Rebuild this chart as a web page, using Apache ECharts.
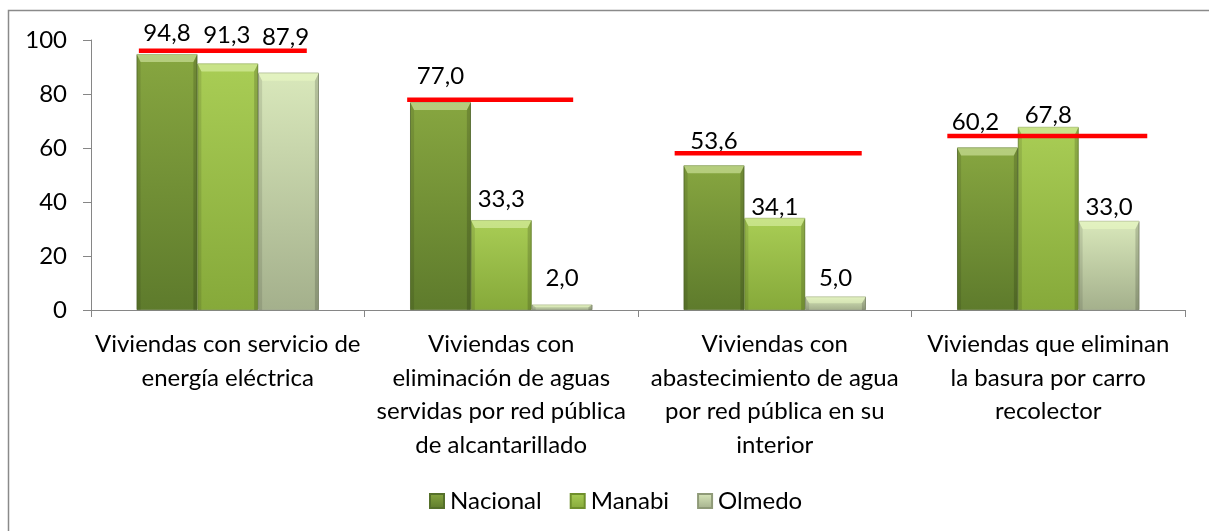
<!DOCTYPE html>
<html>
<head>
<meta charset="utf-8">
<script src="https://cdn.jsdelivr.net/npm/echarts@6/dist/echarts.min.js"></script>
<style>
  html, body { margin: 0; padding: 0; background: #ffffff; }
  #chart { width: 1209px; height: 531px; }
</style>
</head>
<body>
<div id="chart"></div>
<script>
// Categories of household services (wrapped as shown on the axis)
const categories = [
  'Viviendas con servicio de\nenergía eléctrica',
  'Viviendas con\neliminación de aguas\nservidas por red pública\nde alcantarillado',
  'Viviendas con\nabastecimiento de agua\npor red pública en su\ninterior',
  'Viviendas que eliminan\nla basura por carro\nrecolector'
];
const seriesNames = ['Nacional', 'Manabi', 'Olmedo'];
const nacional = [94.8, 77.0, 53.6, 60.2];
const manabi   = [91.3, 33.3, 34.1, 67.8];
const olmedo   = [87.9, 2.0, 5.0, 33.0];
// Reference level per category (red bars)
const referencia = [96.0, 77.9, 58.1, 64.4];
const yTicks = [0, 20, 40, 60, 80, 100];

// Layout: horizontal extent of each red bar, as a fraction of the category band
const refSpan = [[-0.325, 0.289], [-0.344, 0.263], [-0.366, 0.318], [-0.369, 0.362]];
// Layout: hand-placed label nudges [dx, dy] per series and category
const labelNudge = [
  [[0, -9], [0, -14], [0, -12], [-12, -13]],
  [[-1, -16], [0, -9], [0, 1], [0, 0]],
  [[-3, -23], [0, -14], [0, -6], [0, -2]]
];

const FONT = 'Lato, "Open Sans", sans-serif';
const FS = 24;
const palette = [
  { top: '#87a640', bottom: '#5e7b2c', edge: '#55702a' },
  { top: '#a9cd55', bottom: '#86a93a', edge: '#6f8f2c' },
  { top: '#d9e8bb', bottom: '#a4b08c', edge: '#8f9a78' }
];
const seriesData = [nacional, manabi, olmedo];
const GAP = 0.3334;

function fmt(v) { return v.toFixed(1).replace('.', ','); }

const chart = echarts.init(document.getElementById('chart'), null, { renderer: 'canvas' });

const barSeries = seriesData.map(function (arr, s) {
  return {
    name: seriesNames[s],
    type: 'bar',
    barGap: '0%',
    barCategoryGap: (GAP * 100) + '%',
    z: 2,
    itemStyle: {
      color: new echarts.graphic.LinearGradient(0, 0, 0, 1, [
        { offset: 0, color: palette[s].top },
        { offset: 1, color: palette[s].bottom }
      ]),
      borderColor: palette[s].edge,
      borderWidth: 0.8
    },
    data: arr.map(function (v, i) {
      return {
        value: v,
        label: { offset: labelNudge[s][i] }
      };
    }),
    label: {
      show: true,
      position: 'top',
      distance: 0,
      fontFamily: FONT,
      fontSize: FS,
      color: '#000000',
      formatter: function (p) { return fmt(p.value); }
    }
  };
});

// Bevel highlights drawn over each bar
const bevelData = [];
seriesData.forEach(function (arr, s) {
  arr.forEach(function (v, i) { bevelData.push([i, v, s]); });
});

const bevelSeries = {
  type: 'custom',
  silent: true,
  z: 3,
  data: bevelData,
  renderItem: function (params, api) {
    const cat = api.value(0), v = api.value(1), s = api.value(2);
    const base = api.coord([cat, 0]);
    const topPt = api.coord([cat, v]);
    const band = api.size([1, 0])[0];
    const groupW = band * (1 - GAP);
    const w = groupW / 3;
    const x0 = base[0] - groupW / 2 + s * w;
    const x1 = x0 + w;
    const y0 = topPt[1];
    const y1 = base[1];
    const h = y1 - y0;
    const b = Math.min(8, h / 2);
    const sb = Math.min(4, w / 4);
    return {
      type: 'group',
      children: [
        { type: 'polygon', shape: { points: [[x0, y0], [x1, y0], [x1 - sb, y0 + b], [x0 + sb, y0 + b]] },
          style: { fill: 'rgba(240,255,200,0.45)' } },
        { type: 'polygon', shape: { points: [[x0, y0], [x0 + sb, y0 + b], [x0 + sb, y1], [x0, y1]] },
          style: { fill: 'rgba(0,0,0,0.10)' } },
        { type: 'polygon', shape: { points: [[x1, y0], [x1 - sb, y0 + b], [x1 - sb, y1], [x1, y1]] },
          style: { fill: 'rgba(0,0,0,0.16)' } }
      ]
    };
  }
};

const refSeries = {
  type: 'custom',
  silent: true,
  z: 4,
  data: referencia.map(function (v, i) { return [i, v]; }),
  renderItem: function (params, api) {
    const cat = api.value(0), v = api.value(1);
    const p = api.coord([cat, v]);
    const band = api.size([1, 0])[0];
    const span = refSpan[params.dataIndex];
    return {
      type: 'line',
      shape: { x1: p[0] + span[0] * band, y1: p[1], x2: p[0] + span[1] * band, y2: p[1] },
      style: { stroke: '#ff0000', lineWidth: 4.5 }
    };
  }
};

chart.setOption({
  animation: false,
  backgroundColor: '#ffffff',
  textStyle: { fontFamily: FONT },
  graphic: [{
    type: 'rect',
    silent: true,
    shape: { x: 8.5, y: 10.5, width: 1300, height: 700 },
    style: { fill: 'none', stroke: '#8a8a8a', lineWidth: 1.5 }
  }],
  grid: { left: 91, right: 24, top: 40, bottom: 221, containLabel: false },
  legend: {
    data: seriesNames,
    left: 424,
    top: 484,
    itemWidth: 14,
    itemHeight: 14,
    itemGap: 28,
    icon: 'rect',
    textStyle: { fontFamily: FONT, fontSize: FS, color: '#000000', padding: [0, 0, 0, 1] }
  },
  xAxis: {
    type: 'category',
    data: categories,
    axisLine: { lineStyle: { color: '#868686', width: 1 } },
    axisTick: { show: true, length: 7, lineStyle: { color: '#868686' } },
    axisLabel: {
      interval: 0,
      margin: 18,
      fontFamily: FONT,
      fontSize: FS,
      lineHeight: 33.5,
      color: '#000000',
      align: 'center'
    }
  },
  yAxis: {
    type: 'value',
    min: yTicks[0],
    max: yTicks[yTicks.length - 1],
    interval: yTicks[1] - yTicks[0],
    splitLine: { show: false },
    axisLine: { show: true, lineStyle: { color: '#868686', width: 1 } },
    axisTick: { show: true, length: 8, lineStyle: { color: '#868686' } },
    axisLabel: { margin: 24, fontFamily: FONT, fontSize: FS, color: '#000000' }
  },
  series: barSeries.concat([bevelSeries, refSeries])
});
</script>
</body>
</html>
